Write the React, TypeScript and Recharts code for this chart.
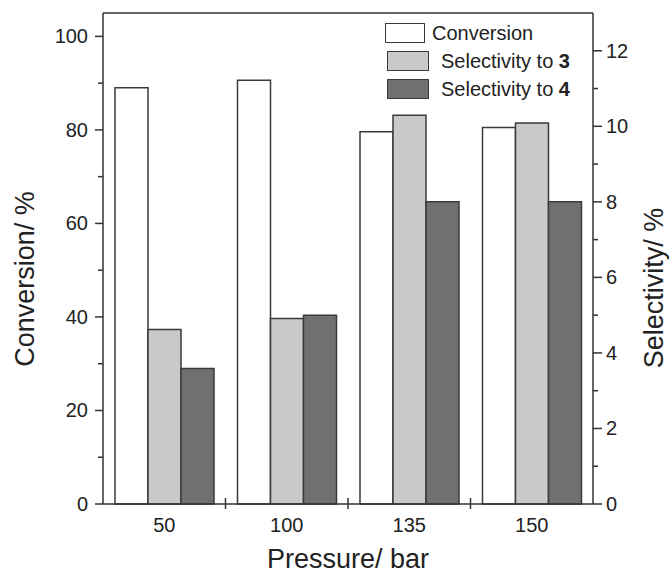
import { BarChart, Bar, XAxis, YAxis, Legend, ReferenceLine, Label } from 'recharts'

const pressures = ['50', '100', '135', '150']
const conversion = [89, 90.6, 79.6, 80.5]
const selectivity3 = [4.62, 4.91, 10.29, 10.09]
const selectivity4 = [3.59, 5.0, 8.0, 8.0]

const leftTicks = [0, 10, 20, 30, 40, 50, 60, 70, 80, 90, 100]
const rightTicks = [0, 1, 2, 3, 4, 5, 6, 7, 8, 9, 10, 11, 12]
const seriesNames = ['Conversion', 'Selectivity to 3', 'Selectivity to 4']

const data = pressures.map((p, i) => ({
  pressure: p,
  conversion: conversion[i],
  sel3: selectivity3[i],
  sel4: selectivity4[i],
}))

const W = 671
const H = 575
const LEFT_W = 103
const RIGHT_W = 78
const XAXIS_H = 71
const BAND = (W - LEFT_W - RIGHT_W) / pressures.length
const AXIS = '#333'
const BAR_STROKE = '#3a3a3a'
const FONT = '"Liberation Sans", Arial, Helvetica, sans-serif'

function LeftTick(props: any) {
  const { x, y, payload } = props
  const major = payload.value % 20 === 0
  return (
    <g>
      <line x1={x} x2={x - (major ? 8 : 5)} y1={y} y2={y} stroke={AXIS} strokeWidth={1.5} />
      {major && (
        <text x={x - 15} y={y} dy="0.35em" textAnchor="end" fontSize={20} fill="#222" fontFamily={FONT}>
          {payload.value}
        </text>
      )}
    </g>
  )
}

function RightTick(props: any) {
  const { x, y, payload } = props
  const major = payload.value % 2 === 0
  return (
    <g>
      <line x1={x} x2={x + (major ? 9 : 5)} y1={y} y2={y} stroke={AXIS} strokeWidth={1.5} />
      {major && (
        <text x={x + 13} y={y} dy="0.35em" textAnchor="start" fontSize={20} fill="#222" fontFamily={FONT}>
          {payload.value}
        </text>
      )}
    </g>
  )
}

function BottomTick(props: any) {
  const { x, y, payload, index } = props
  const sx = x - BAND / 2
  return (
    <g>
      {index > 0 && <line x1={sx} x2={sx} y1={y - 6} y2={y + 5} stroke={AXIS} strokeWidth={1.5} />}
      <text x={x} y={y + 28} textAnchor="middle" fontSize={20} fill="#222" fontFamily={FONT}>
        {payload.value}
      </text>
    </g>
  )
}

function XTitle(props: any) {
  const vb = props.viewBox
  return (
    <text x={vb.x + vb.width / 2} y={vb.y + 64} textAnchor="middle" fontSize={27} fill="#222" fontFamily={FONT}>
      Pressure/ bar
    </text>
  )
}

function LeftTitle(props: any) {
  const vb = props.viewBox
  const cx = vb.x + 34
  const cy = 279
  return (
    <text x={cx} y={cy} textAnchor="middle" fontSize={27} fill="#222" fontFamily={FONT} transform={`rotate(-90, ${cx}, ${cy})`}>
      Conversion/ %
    </text>
  )
}

function RightTitle(props: any) {
  const vb = props.viewBox
  const cx = vb.x + 70
  const cy = 288
  return (
    <text x={cx} y={cy} textAnchor="middle" fontSize={27} fill="#222" fontFamily={FONT} transform={`rotate(-90, ${cx}, ${cy})`}>
      Selectivity/ %
    </text>
  )
}

function LegendContent(props: any) {
  const items = props.payload || []
  return (
    <div style={{ fontFamily: FONT, fontSize: 20, color: '#222' }}>
      {items.map((item: any, i: number) => {
        const name: string = item.value
        const last = name.slice(-1)
        const bold = /\d/.test(last)
        return (
          <div key={name} style={{ display: 'flex', alignItems: 'center', height: 28 }}>
            <div
              style={{
                width: i === 0 ? 40 : 42,
                height: 20,
                marginLeft: i === 0 ? 0 : 2,
                background: item.color,
                border: `1.5px solid ${BAR_STROKE}`,
                boxSizing: 'border-box',
              }}
            />
            <span style={{ marginLeft: i === 0 ? 7 : 12, whiteSpace: 'nowrap' }}>
              {bold ? name.slice(0, -1) : name}
              {bold && <b>{last}</b>}
            </span>
          </div>
        )
      })}
    </div>
  )
}

export default function App() {
  return (
    <div style={{ position: 'absolute', left: 0, top: 0, background: '#fff' }}>
      <BarChart
        width={W}
        height={H}
        data={data}
        margin={{ top: 13, right: 0, bottom: 0, left: 0 }}
        barCategoryGap={12}
        barGap={0}
      >
        <XAxis
          dataKey="pressure"
          height={XAXIS_H}
          tickSize={0}
          tickMargin={0}
          interval={0}
          axisLine={{ stroke: AXIS, strokeWidth: 1.5 }}
          tickLine={false}
          tick={<BottomTick />}
        >
          <Label content={<XTitle />} />
        </XAxis>
        <YAxis
          yAxisId="left"
          width={LEFT_W}
          domain={[0, 105]}
          ticks={leftTicks}
          interval={0}
          tickSize={0}
          tickMargin={0}
          axisLine={{ stroke: AXIS, strokeWidth: 1.5 }}
          tickLine={false}
          tick={<LeftTick />}
        >
          <Label content={<LeftTitle />} />
        </YAxis>
        <YAxis
          yAxisId="right"
          orientation="right"
          width={RIGHT_W}
          domain={[0, 13]}
          ticks={rightTicks}
          interval={0}
          tickSize={0}
          tickMargin={0}
          axisLine={{ stroke: AXIS, strokeWidth: 1.5 }}
          tickLine={false}
          tick={<RightTick />}
        >
          <Label content={<RightTitle />} />
        </YAxis>
        <ReferenceLine yAxisId="left" y={105} stroke={AXIS} strokeWidth={1.5} />
        <Legend
          layout="vertical"
          align="center"
          verticalAlign="middle"
          content={<LegendContent />}
          wrapperStyle={{ position: 'absolute', top: 19, left: 385, width: 230, height: 'auto' }}
        />
        <Bar yAxisId="left" dataKey="conversion" name={seriesNames[0]} fill="#ffffff" stroke={BAR_STROKE} strokeWidth={1.5} isAnimationActive={false} />
        <Bar yAxisId="right" dataKey="sel3" name={seriesNames[1]} fill="#c9c9c9" stroke={BAR_STROKE} strokeWidth={1.5} isAnimationActive={false} />
        <Bar yAxisId="right" dataKey="sel4" name={seriesNames[2]} fill="#707070" stroke={BAR_STROKE} strokeWidth={1.5} isAnimationActive={false} />
      </BarChart>
    </div>
  )
}
